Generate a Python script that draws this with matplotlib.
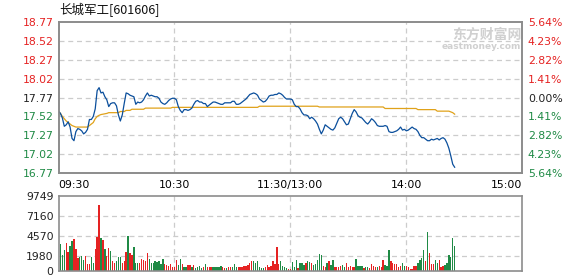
import matplotlib
matplotlib.use('Agg')
import matplotlib.pyplot as plt
import numpy as np

plt.rcParams['font.family'] = ['DejaVu Sans', 'Noto Sans CJK SC']

# minute-by-minute price, 09:30 .. 14:25 (index 120 = 11:30/13:00)
price = [
    17.59, 17.56, 17.50, 17.39, 17.41, 17.45, 17.38, 17.23, 17.20, 17.32,
    17.36, 17.35, 17.33, 17.29, 17.31, 17.35, 17.48, 17.48, 17.52, 17.62,
    17.86, 17.90, 17.83, 17.84, 17.78, 17.74, 17.65, 17.69, 17.70, 17.70,
    17.66, 17.54, 17.46, 17.54, 17.69, 17.83, 17.82, 17.80, 17.79, 17.78,
    17.68, 17.71, 17.70, 17.71, 17.74, 17.79, 17.83, 17.79, 17.80, 17.79,
    17.78, 17.78, 17.76, 17.71, 17.69, 17.68, 17.70, 17.73, 17.75, 17.76,
    17.76, 17.74, 17.65, 17.60, 17.57, 17.61, 17.61, 17.60, 17.61, 17.63,
    17.68, 17.72, 17.73, 17.71, 17.71, 17.69, 17.69, 17.65, 17.67, 17.69,
    17.71, 17.71, 17.70, 17.69, 17.68, 17.68, 17.70, 17.70, 17.70, 17.70,
    17.72, 17.72, 17.68, 17.68, 17.69, 17.71, 17.73, 17.75, 17.78, 17.81,
    17.82, 17.83, 17.82, 17.80, 17.75, 17.73, 17.71, 17.72, 17.75, 17.79,
    17.80, 17.80, 17.81, 17.81, 17.83, 17.82, 17.80, 17.77, 17.75, 17.75,
    17.75, 17.74, 17.68, 17.65, 17.65, 17.62, 17.57, 17.54, 17.54, 17.53,
    17.49, 17.51, 17.49, 17.46, 17.42, 17.35, 17.29, 17.34, 17.41, 17.39,
    17.37, 17.35, 17.34, 17.37, 17.43, 17.49, 17.51, 17.49, 17.45, 17.41,
    17.42, 17.49, 17.56, 17.61, 17.58, 17.53, 17.51, 17.50, 17.47, 17.44,
    17.42, 17.45, 17.49, 17.47, 17.44, 17.40, 17.39, 17.39, 17.39, 17.40,
    17.39, 17.32, 17.31, 17.31, 17.32, 17.33, 17.35, 17.38, 17.34, 17.35,
    17.33, 17.34, 17.36, 17.38, 17.36, 17.35, 17.32, 17.27, 17.24, 17.24,
    17.22, 17.20, 17.20, 17.22, 17.21, 17.22, 17.23, 17.21, 17.23, 17.24,
    17.22, 17.17, 17.10, 17.00, 16.89, 16.85,
]

# average price line
avg = [
    17.59, 17.56, 17.52, 17.49, 17.46, 17.44, 17.42, 17.40, 17.39, 17.38,
    17.38, 17.38, 17.38, 17.38, 17.38, 17.38, 17.40, 17.42, 17.44, 17.49,
    17.52, 17.535, 17.545, 17.55, 17.555, 17.56, 17.57, 17.57, 17.57, 17.57,
    17.57, 17.57, 17.585, 17.585, 17.585, 17.60, 17.60, 17.60, 17.615, 17.615,
    17.615, 17.615, 17.615, 17.615, 17.615, 17.63, 17.63, 17.63, 17.63, 17.63,
    17.63, 17.63, 17.63, 17.63, 17.63, 17.63, 17.63, 17.63, 17.63, 17.64,
    17.64, 17.64, 17.64, 17.64, 17.64, 17.64, 17.64, 17.64, 17.64, 17.64,
    17.64, 17.64, 17.64, 17.64, 17.64, 17.64, 17.64, 17.64, 17.64, 17.64,
    17.64, 17.64, 17.64, 17.64, 17.64, 17.64, 17.64, 17.64, 17.64, 17.64,
    17.64, 17.64, 17.64, 17.64, 17.64, 17.64, 17.64, 17.64, 17.64, 17.64,
    17.64, 17.64, 17.64, 17.64, 17.655, 17.655, 17.655, 17.655, 17.655, 17.655,
    17.655, 17.655, 17.655, 17.655, 17.655, 17.655, 17.655, 17.655, 17.655, 17.655,
    17.655, 17.655, 17.655, 17.655, 17.655, 17.655, 17.655, 17.655, 17.655, 17.655,
    17.655, 17.655, 17.655, 17.655, 17.655, 17.645, 17.645, 17.645, 17.645, 17.645,
    17.645, 17.645, 17.645, 17.645, 17.645, 17.645, 17.645, 17.645, 17.645, 17.645,
    17.645, 17.645, 17.645, 17.645, 17.645, 17.645, 17.645, 17.645, 17.645, 17.645,
    17.645, 17.645, 17.645, 17.645, 17.645, 17.645, 17.645, 17.645, 17.645, 17.625,
    17.625, 17.625, 17.625, 17.625, 17.625, 17.625, 17.625, 17.625, 17.625, 17.625,
    17.625, 17.625, 17.625, 17.625, 17.625, 17.625, 17.61, 17.61, 17.61, 17.61,
    17.61, 17.61, 17.61, 17.61, 17.61, 17.61, 17.59, 17.59, 17.59, 17.59,
    17.59, 17.59, 17.59, 17.58, 17.57, 17.55,
]

volume = [
    0, 3520, 2090, 2740, 3700, 2480, 3260, 3900, 4180, 2870,
    1700, 1780, 1960, 1440, 1960, 910, 910, 1830, 1040, 2870,
    4440, 8610, 4300, 4050, 2870, 1960, 3000, 2610, 1300, 1090,
    1300, 1830, 1830, 1090, 1300, 2480, 4570, 2350, 2090, 3130,
    1090, 1040, 1040, 1570, 1480, 1300, 2350, 1570, 1040, 1040,
    1300, 1170, 1300, 910, 1570, 910, 780, 650, 910, 480,
    480, 1440, 780, 1570, 910, 570, 570, 780, 780, 480,
    780, 350, 570, 650, 350, 480, 910, 480, 480, 480,
    480, 480, 480, 570, 650, 480, 350, 350, 480, 480,
    480, 910, 480, 480, 570, 480, 650, 650, 780, 1090,
    1300, 1300, 1000, 1300, 480, 350, 350, 480, 780, 480,
    650, 1300, 910, 3130, 910, 1300, 650, 480, 350, 260,
    300, 1170, 520, 1440, 390, 1040, 1040, 780, 1040, 1300,
    1170, 1040, 780, 910, 1440, 2220, 2090, 650, 520, 1040,
    1300, 780, 1440, 520, 520, 520, 650, 780, 480, 1000,
    480, 650, 480, 480, 1570, 650, 650, 650, 390, 480,
    570, 390, 910, 650, 480, 570, 650, 570, 1440, 780,
    650, 2740, 1300, 1090, 910, 910, 480, 650, 1040, 650,
    650, 480, 300, 260, 650, 650, 1000, 1440, 1650, 2740,
    1300, 5050, 2350, 910, 910, 1440, 1040, 1440, 480, 650,
    780, 1040, 2090, 1830, 4300, 3260,
]

# r = up minute, g = down minute
vol_dir = "".join([
    "g",
    "gggrrggrrr", "gggrrrggrr", "rgrgrrgrrg", "ggrrrgrrgg", "grrrrrgggg",
    "ggggrrrrrr", "rggrggrrgr", "ggggrgrrrg", "ggggrrgrrg", "ggrrrrrrrr",
    "ggggggrrrr", "rrrrggggrr", "gggrgggrgg", "rgggggrrgr", "ggrrrrggrr",
    "rrrggggrgg", "rrrrgrrrgg", "grrrrrrggr", "rrrrrggggr", "grrrggrrrg",
    "ggggg",
])

price_ticks = [16.77, 17.02, 17.27, 17.52, 17.77, 18.02, 18.27, 18.52, 18.77]
pct_labels = ['5.64%', '4.23%', '2.82%', '1.41%', '0.00%', '1.41%', '2.82%', '4.23%', '5.64%']
vol_ticks = [0, 1980, 4570, 7160, 9749]
time_ticks = [0, 60, 120, 180, 240]
time_labels = ['09:30', '10:30', '11:30/13:00', '14:00', '15:00']

RED = '#e52222'
GREEN = '#1f8a45'
GRID = '#cccccc'
SPINE = '#8c8c8c'

W, H = 578, 276
fig = plt.figure(figsize=(W / 100, H / 100), dpi=100)
ax = fig.add_axes([58.5 / W, 1 - 173.3 / H, 463.8 / W, 151.6 / H])
axv = fig.add_axes([58.5 / W, 1 - 271 / H, 463.8 / W, 74.7 / H])

t = np.arange(len(price))

# price panel
for y in price_ticks[1:-1]:
    ax.axhline(y, color=GRID, lw=0.9, dashes=(4, 3), zorder=0)
for x in time_ticks[1:-1]:
    ax.axvline(x, color=GRID, lw=0.9, dashes=(4, 3), zorder=0)
ax.plot(t, avg, color='#e0a21a', lw=0.9, zorder=2)
ax.plot(t, price, color='#0b4f9c', lw=0.9, zorder=3)
ax.set_xlim(0, 240)
ax.set_ylim(price_ticks[0], price_ticks[-1])
ax.set_yticks(price_ticks)
ax.set_yticklabels([f'{v:.2f}' for v in price_ticks])
mid = len(price_ticks) // 2
for i, lab in enumerate(ax.get_yticklabels()):
    lab.set_color(RED if i > mid else (GREEN if i < mid else '#222222'))
ax.set_xticks(time_ticks)
ax.set_xticklabels(time_labels)
xl = ax.get_xticklabels()
xl[0].set_horizontalalignment('left')
xl[-1].set_horizontalalignment('right')
ax.tick_params(length=0, labelsize=7.8, pad=3.5)
ax.tick_params(axis='x', pad=5)

axr = ax.twinx()
axr.set_ylim(price_ticks[0], price_ticks[-1])
axr.set_yticks(price_ticks)
axr.set_yticklabels(pct_labels)
for i, lab in enumerate(axr.get_yticklabels()):
    lab.set_color(RED if i > mid else (GREEN if i < mid else '#222222'))
axr.tick_params(length=0, labelsize=7.8, pad=4)

for a in (ax, axr, axv):
    for s in a.spines.values():
        s.set_color(SPINE)
        s.set_linewidth(1.2)

# watermark
ax.text(0.998, 0.915, '东方财富网', transform=ax.transAxes, ha='right', va='center',
        fontsize=10, fontweight='bold', color='#d0d0d0', family=['Noto Sans CJK SC'])
ax.text(0.998, 0.835, 'eastmoney.com', transform=ax.transAxes, ha='right', va='center',
        fontsize=6.5, fontweight='bold', color='#d0d0d0')

# volume panel
for y in vol_ticks[1:-1]:
    axv.axhline(y, color=GRID, lw=0.9, dashes=(4, 3), zorder=0)
for x in time_ticks[1:-1]:
    axv.axvline(x, color=GRID, lw=0.9, dashes=(4, 3), zorder=0)
bar_colors = [RED if c == 'r' else GREEN for c in vol_dir]
axv.bar(t, volume, width=0.7, color=bar_colors, linewidth=0, zorder=2)
axv.set_xlim(0, 240)
axv.set_ylim(0, vol_ticks[-1])
axv.set_yticks(vol_ticks)
axv.set_yticklabels([str(v) for v in vol_ticks])
axv.set_xticks([])
axv.tick_params(length=0, labelsize=7.8, pad=3.5, colors='#222222')

fig.text(59 / W, 1 - 9.5 / H, '长城军工[601606]', ha='left', va='center', fontsize=9,
         color='#111111', family=['Noto Sans CJK SC', 'DejaVu Sans'])

fig.savefig('out.png', dpi=100, facecolor='white')
